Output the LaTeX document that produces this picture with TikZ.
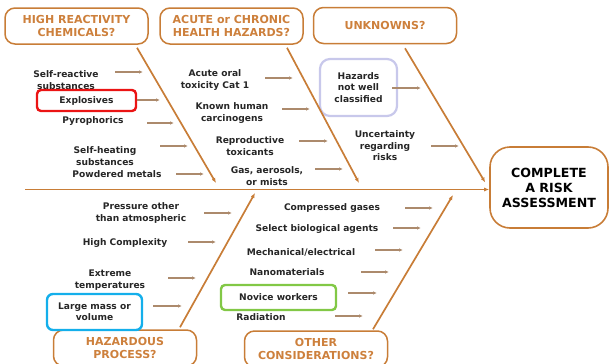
\documentclass[tikz,border=0pt]{standalone}
\usepackage{fontspec}
\setmainfont{DejaVu Sans}
\usetikzlibrary{positioning}
\usetikzlibrary{calc}
\usetikzlibrary{arrows.meta}
\definecolor{bonebrown}{RGB}{200,125,55}
\definecolor{twiggray}{RGB}{172,138,108}
\definecolor{headorange}{RGB}{205,128,60}
\definecolor{hlred}{RGB}{235,20,20}
\definecolor{hllav}{RGB}{200,200,235}
\definecolor{hlblue}{RGB}{20,175,235}
\definecolor{hlgreen}{RGB}{130,200,70}

\tikzset{
  head/.style={draw=bonebrown, line width=1.5pt, rounded corners=10pt,
    minimum width=143pt, minimum height=36pt, inner sep=0pt, align=center,
    text=headorange, font=\fontsize{11}{13}\selectfont\bfseries},
  cause/.style={inner sep=0pt, align=center, text=black!85,
    font=\fontsize{9.1}{11.4}\selectfont\bfseries},
  hlbox/.style={cause, draw=#1, line width=2.4pt, rounded corners=4pt},
  bone/.style={draw=bonebrown, line width=1.7pt, -{Latex[length=5pt,width=4pt]}},
  twig/.style={draw=twiggray, line width=1.1pt, -{Latex[length=4pt,width=3.5pt]}},
}

\begin{document}
\begin{tikzpicture}[x=1pt,y=-1pt]
        \useasboundingbox (0,0) rectangle (611,364);
        \clip (0,0) rectangle (611,364);

        % heads %
        \node[head] (hrc) at (76.5,26) {HIGH REACTIVITY\\CHEMICALS?};
        \node[head] (ach) at (231.5,26) {ACUTE or CHRONIC\\HEALTH HAZARDS?};
        \node[head] (unk) at (385,25.5) {UNKNOWNS?};
        \node[head] (hzp) at (125,348) {HAZARDOUS\\PROCESS?};
        \node[head] (oth) at (316,349) {OTHER\\CONSIDERATIONS?};
        \node[draw=bonebrown, line width=1.6pt, rounded corners=20pt, minimum width=118pt,
          minimum height=81pt, align=center, font=\fontsize{12.6}{15}\selectfont\bfseries]
          (done) at (549,187.5) {COMPLETE\\A RISK\\ASSESSMENT};

        % causes %
        \node[cause] (sr) at (66,80) {Self-reactive\\substances};
        \node[hlbox=hlred, minimum width=99pt, minimum height=21pt] (exp) at (86.5,100.5) {Explosives};
        \node[cause] (pyro) at (93,121) {Pyrophorics};
        \node[cause] (sh) at (105,156) {Self-heating\\substances};
        \node[cause] (pm) at (117,174) {Powdered metals};

        \node[cause] (aot) at (215,80) {Acute oral\\toxicity Cat 1};
        \node[cause] (khc) at (232,113) {Known human\\carcinogens};
        \node[cause] (rtx) at (250,146) {Reproductive\\toxicants};
        \node[cause] (gam) at (267,176) {Gas, aerosols,\\or mists};

        \node[hlbox=hllav, line width=2.2pt, rounded corners=10pt, minimum width=77pt,
          minimum height=57pt] (hnc) at (358.5,87.5) {Hazards\\not well\\classified};
        \node[cause] (unc) at (385,146) {Uncertainty\\regarding\\risks};

        \node[cause] (pot) at (141,213) {Pressure other\\than atmospheric};
        \node[cause] (hcx) at (125,243) {High Complexity};
        \node[cause] (ext) at (110,280) {Extreme\\temperatures};
        \node[hlbox=hlblue, rounded corners=6pt, minimum width=95pt, minimum height=36pt]
          (lmv) at (94.5,312) {Large mass or\\volume};

        \node[cause] (cgs) at (332,208) {Compressed gases};
        \node[cause] (sba) at (317,229) {Select biological agents};
        \node[cause] (mel) at (301,252) {Mechanical/electrical};
        \node[cause] (nan) at (287,272) {Nanomaterials};
        \node[hlbox=hlgreen, minimum width=115pt, minimum height=25pt] (nov) at (278.5,297.5) {Novice workers};
        \node[cause] (rad) at (261,317) {Radiation};

        % bones %
        \coordinate (tail) at (25,189.5);
        \coordinate (t1) at (216,183);
        \coordinate (t2) at (359,183);
        \coordinate (b1) at (255,193);
        \coordinate (b2) at (453,195);
        \draw[bone] (tail) -- (tail -| done.west);
        \draw[bone] ($(hrc.south)+(60.5,3)$) -- (t1);
        \draw[bone] ($(ach.south)+(55.5,3)$) -- (t2);
        \draw[bone] ($(unk.south)+(20,4)$) -- ($(done.west)+(-4,-5)$);
        \draw[bone] ($(hzp.north)+(55,-2)$) -- (b1);
        \draw[bone] ($(oth.north)+(57,-1)$) -- (b2);

        % twigs %
        \draw[twig] ($(sr)+(49,-8)$) -- ++(28,0);
        \draw[twig] ($(exp)+(50.5,-0.5)$) -- ++(23,0);
        \draw[twig] ($(pyro)+(54,2)$) -- ++(27,0);
        \draw[twig] ($(sh)+(55,-10)$) -- ++(28,0);
        \draw[twig] ($(pm)+(59,0)$) -- ++(28,0);
        \draw[twig] ($(aot)+(50,-2)$) -- ++(28,0);
        \draw[twig] ($(khc)+(50,-4)$) -- ++(28,0);
        \draw[twig] ($(rtx)+(49,-5)$) -- ++(29,0);
        \draw[twig] ($(gam)+(48,-7)$) -- ++(28,0);
        \draw[twig] ($(hnc)+(33.5,0.5)$) -- ++(29,0);
        \draw[twig] ($(unc)+(46,0)$) -- ++(28,0);
        \draw[twig] ($(pot)+(63,0)$) -- ++(28,0);
        \draw[twig] ($(hcx)+(63,-1)$) -- ++(28,0);
        \draw[twig] ($(ext)+(58,-2)$) -- ++(28,0);
        \draw[twig] ($(lmv)+(58.5,-6)$) -- ++(29,0);
        \draw[twig] ($(cgs)+(73,0)$) -- ++(28,0);
        \draw[twig] ($(sba)+(76,-1)$) -- ++(28,0);
        \draw[twig] ($(mel)+(74,-2)$) -- ++(28,0);
        \draw[twig] ($(nan)+(74,0)$) -- ++(28,0);
        \draw[twig] ($(nov)+(69.5,-4.5)$) -- ++(29,0);
        \draw[twig] ($(rad)+(74,-1)$) -- ++(28,0);
      \end{tikzpicture}
\end{document}
